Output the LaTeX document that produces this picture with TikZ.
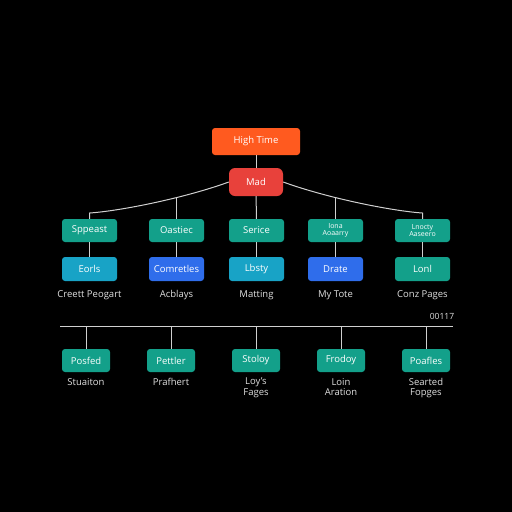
\documentclass[tikz,border=0pt]{standalone}
\usepackage{fontspec}
\setmainfont{Open Sans}
\begin{document}
\begin{tikzpicture}[x=1pt,y=-1pt,
  box/.style={rounded corners=3pt,minimum width=55pt,minimum height=23pt,inner sep=1pt,text=white,font=\fontsize{9.5}{10}\selectfont,align=center},
  smallbox/.style={box,minimum width=48pt},
  teal/.style={fill=tealc},
  cyan/.style={fill=cyanc},
  blue/.style={fill=bluec},
  lbl/.style={text=white!88!black,font=\fontsize{9.5}{10.5}\selectfont,align=center,inner sep=0pt},
  tiny/.style={font=\fontsize{7}{7.5}\selectfont},
  conn/.style={draw=linec,line width=1pt}]
\definecolor{tealc}{HTML}{13A08A}
\definecolor{cyanc}{HTML}{18A3C6}
\definecolor{bluec}{HTML}{2F6DEB}
\definecolor{orangec}{HTML}{FF5A1F}
\definecolor{redc}{HTML}{E8413B}
\definecolor{linec}{HTML}{D0D0D0}
\fill[black] (0,0) rectangle (512,512);
\useasboundingbox (0,0) rectangle (512,512);

\node[box,fill=orangec,minimum width=88pt,minimum height=27pt] (ht) at (256,141.5) {High Time};
\node[box,fill=redc,minimum width=54pt,minimum height=28pt,rounded corners=6pt] (mad) at (256,182) {Mad};

\node[box,teal] (a1) at (89.5,230.5) {Sppeast};
\node[box,teal] (b1) at (176.5,230.5) {Oastiec};
\node[box,teal] (c1) at (256.5,230.5) {Serice};
\node[box,teal,tiny] (d1) at (335.5,230.5) {Iona\\Aoaarry};
\node[box,teal,tiny] (e1) at (422.5,230.5) {Lnocty\\Aaseero};

\node[box,cyan,minimum height=24pt] (a2) at (89.5,269) {Eorls};
\node[box,blue,minimum height=24pt] (b2) at (176.5,269) {Comretles};
\node[box,cyan,minimum height=24pt] (c2) at (256.5,269) {Lbsty};
\node[box,blue,minimum height=24pt] (d2) at (335.5,269) {Drate};
\node[box,teal,minimum height=24pt] (e2) at (422.5,269) {Lonl};

\node[lbl] (a3) at (89.5,295) {Creett Peogart};
\node[lbl] (b3) at (176.5,295) {Acblays};
\node[lbl] (c3) at (256.5,295) {Matting};
\node[lbl] (d3) at (335.5,295) {My Tote};
\node[lbl] (e3) at (422.5,295) {Conz Pages};

\draw[conn] (ht) -- (mad);
\draw[conn] (mad.west) .. controls (185,198) and (120,211) .. coordinate[pos=0.35] (jl) (89.5,213) -- (a1.north);
\draw[conn] (mad.east) .. controls (327,198) and (392,211) .. coordinate[pos=0.35] (jr) (422.5,213) -- (e1.north);
\draw[conn] (b1.north) -- (b1.north |- jl);
\draw[conn] (d1.north) -- (d1.north |- jr);
\draw[conn] (mad) -- (c1);
\foreach \n in {a,b,c,d,e} \draw[conn] (\n1) -- (\n2);

\coordinate (hl) at (60,326);
\coordinate (hr) at (453,326);
\draw[conn] (hl) -- (hr);
\node[lbl,font=\fontsize{8.5}{9}\selectfont] (num) at (442,316) {00117};

\node[smallbox,teal] (p1) at (86,360.5) {Posfed};
\node[smallbox,teal] (p2) at (171,360.5) {Pettler};
\node[smallbox,teal] (p3) at (256,360.5) {Stoloy};
\node[smallbox,teal] (p4) at (341,360.5) {Frodoy};
\node[smallbox,teal] (p5) at (426,360.5) {Poafles};
\foreach \i in {1,...,5} \draw[conn] (p\i.north) -- (p\i.north |- hl);

\node[lbl,anchor=north] (q1) at (86,378) {Stuaiton};
\node[lbl,anchor=north] (q2) at (171,378) {Prafhert};
\node[lbl,anchor=north] (q3) at (256,378) {Loy's\\Fages};
\node[lbl,anchor=north] (q4) at (341,378) {Loin\\Aration};
\node[lbl,anchor=north] (q5) at (426,378) {Searted\\Fopges};
\end{tikzpicture}
\end{document}
